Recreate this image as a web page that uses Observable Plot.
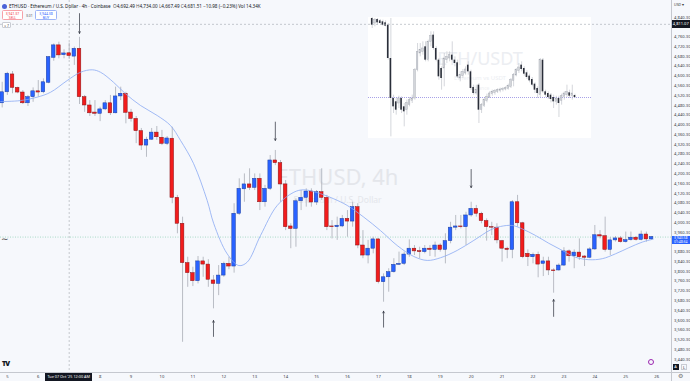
<!DOCTYPE html>
<html><head><meta charset="utf-8">
<script src="https://cdn.jsdelivr.net/npm/d3@7"></script>
<script src="https://cdn.jsdelivr.net/npm/@observablehq/plot@0.6"></script>
<style>
html,body{margin:0;padding:0;background:#f6f8fc;}
#wrap{position:relative;width:690px;height:381px;overflow:hidden;font-family:"Noto Sans",Roboto,sans-serif;color:#131722;}
#inset{position:absolute;left:368px;top:17px;z-index:0;}
#main{position:absolute;left:0;top:0;z-index:1;}
.ov{position:absolute;z-index:2;white-space:nowrap;box-sizing:border-box;}
</style></head><body><div id="wrap"><div id="inset"></div><div id="main"></div></div>
<script>
// ---------- data ----------
const candleStart = Date.UTC(2025, 9, 4, 20); // first 4h bar
const symbolTitle = "ETHUSD · Ethereum / U.S. Dollar · 4h · Coinbase";
const volumeText = "Vol 14.34K";
const opens = [4488,4533,4606,4551,4532,4488,4513,4537,4533,4572,4674,4725,4685,4692.49,4679,4711,4513,4479,4450,4445,4463,4488,4447,4516,4527,4450,4424,4374,4315,4339,4368,4347,4322,4343,4101,3995,3834,3793,3760,3841,3828,3763,3749,3783,3831,3820,4036,4136,4156,4142,4179,4083,4138,4254,4243,4156,3984,3974,4087,4101,4127,4082,4124,4101,3984,3981,3984,4015,4004,4063,3906,3865,3893,3931,3756,3776,3797,3827,3831,3869,3893,3883,3879,3893,3888,3906,3888,3924,3979,3984,3981,4029,4056,4036,4006,3981,3979,3924,3893,3888,4083,3997,3872,3858,3868,3831,3841,3804,3804,3824,3882,3862,3877,3861,3856,3890,3948,3944,3888,3927,3935,3920,3928,3938,3929,3951,3931];
const highs = [4574,4615,4618,4554,4540,4520,4551,4581,4588,4679,4731,4738,4707,4734,4718,4758,4520,4499,4499,4472,4499,4520,4554,4554,4533,4463,4434,4385,4349,4385,4393,4377,4352,4390,4111,4022,3858,3817,3861,3858,3848,3783,3824,3838,3858,4077,4179,4199,4220,4199,4199,4152,4274,4295,4254,4172,3995,4097,4131,4138,4138,4131,4220,4111,4008,4022,4029,4049,4083,4077,3967,3927,3940,3933,3790,3811,3852,3879,3879,3929,3906,3899,3906,3906,3920,3913,3954,4001,4029,4029,4042,4083,4070,4042,4015,4001,3995,3927,3899,4090,4111,4001,3888,3875,3879,3858,3858,3811,3831,3897,3888,3888,3933,3865,3897,3988,3967,4022,3938,3943,3943,3961,3961,3943,3965,3961,3943];
const lows = [4469,4520,4527,4527,4483,4475,4492,4513,4527,4568,4660,4670,4670,4667.49,4643,4483,4451,4434,4434,4413,4458,4438,4445,4499,4404,4411,4323,4295,4267,4336,4336,4315,4315,4077,3954,3510,3735,3738,3749,3776,3735,3647,3701,3776,3807,3793,4029,4083,4131,4131,4049,4063,4131,4233,4083,3967,3893,3899,4049,4063,4063,4070,4090,3967,3933,3927,3979,3940,3981,3893,3852,3831,3872,3749,3674,3715,3793,3824,3824,3858,3865,3852,3872,3861,3858,3879,3831,3913,3967,3974,3906,4022,4022,3995,3924,3947,3913,3838,3852,3852,3981,3852,3820,3831,3774,3779,3783,3711,3801,3820,3838,3811,3845,3820,3852,3886,3933,3879,3865,3920,3916,3916,3924,3924,3925,3920,3927];
const closes = [4533,4609,4551,4532,4488,4513,4537,4532,4574,4677,4725,4684,4692,4681.51,4711,4513,4479,4447,4445,4463,4488,4447,4516,4527,4449,4424,4374,4315,4339,4368,4349,4322,4344,4101,3995,3834,3793,3760,3841,3828,3766,3749,3783,3831,3820,4036,4138,4156,4142,4179,4083,4138,4254,4243,4156,3981,3974,4087,4101,4127,4082,4124,4101,3981,3981,3987,4015,4004,4063,3906,3865,3893,3931,3756,3776,3797,3827,3831,3869,3893,3882,3879,3893,3888,3906,3888,3924,3979,3984,3981,4029,4056,4036,4006,3981,3979,3927,3893,3888,4083,3997,3858,3858,3868,3828,3841,3804,3801,3824,3882,3862,3877,3858,3856,3890,3948,3943,3888,3927,3935,3920,3928,3938,3929,3951,3931,3940.58];
// moving average line (bar number, price)
const maIndex = [0.67,4.55,7.79,10.37,13.61,16.2,18.47,20.08,22.6,24.93,27.84,31.08,33.66,35.6,38.12,40.78,42.06,44.66,46.92,48.55,51.13,54.37,57.59,59.53,62.77,65.35,67.95,71.17,74.41,77.65,80.88,83.48,86.06,89.3,92.52,95.76,97.7,99.97,101.91,104.49,107.07,109.67,112.25,114.83,117.44,120,122.6,125.2,127.33];
const maValue = [4495,4499,4513,4533,4581,4615,4625,4615,4574,4527,4479,4438,4397,4336,4242,4090,3995,3872,3824,3838,3947,4070,4124,4134,4118,4097,4070,4022,3967,3906,3861,3845,3856,3886,3927,3970,3984,3988,3974,3947,3915,3886,3858,3848,3852,3872,3897,3920,3932];
// hand-drawn arrows (bar number, price from, price to)
const downArrowBar = [16, 54, 92];
const downArrowFrom = [4855, 4411, 4217];
const downArrowTo = [4774, 4336, 4143];
const upArrowBar = [42, 75, 108];
const upArrowFrom = [3534, 3572, 3616];
const upArrowTo = [3599, 3637, 3685];
// axis ticks
const priceTicks = [4840.3,4760.3,4720.3,4680.3,4640.3,4600.3,4560.3,4520.3,4480.3,4440.3,4400.3,4360.3,4320.3,4280.3,4240.3,4200.3,4160.3,4120.3,4080.3,4040.3,4000.3,3960.3,3880.3,3840.3,3800.3,3760.3,3720.3,3680.3,3640.3,3600.3,3560.3,3520.3,3480.3,3440.3];
const dayTicks = [5,6,8,9,10,11,12,13,14,15,16,17,18,19,20,21,22,23,24,25,26];
// crosshair & trading panel
const crosshairBar = 14;
const crosshairPrice = 4811.07;
const crosshairTimeLabel = "Tue 07 Oct '25  12:00 AM";
const countdown = "01:48:34";
const sellPrice = 3941.37, buyPrice = 3944.38, spreadText = "3.01";
// inset (ETH/USDT snapshot)
const insetOpen = [4940,4880,4928,4912,4900,4888,4860,4460,3980,3940,3920,3980,3880,3840,3900,3952,3980,4320,4520,4540,4600,4440,4660,4740,4580,4440,4340,4340,4440,4460,4500,4440,4408,4220,4248,4280,4380,4300,4112,4040,4140,3840,3892,3952,3992,4032,4048,4060,4072,4080,4088,4096,4120,4192,4256,4312,4380,4340,4288,4248,4208,4152,4100,4020,4440,4060,4040,4020,3992,3940,3980,3952,4000,4020,4048,4008,4016];
const insetHigh = [4960,4940,4940,4928,4920,4912,4880,4940,4020,3980,4008,4000,3920,3960,3992,4020,4340,4640,4640,4660,4660,4680,4780,4780,4600,4460,4360,4520,4540,4540,4660,4480,4440,4300,4328,4360,4420,4320,4140,4140,4160,3920,3980,4032,4060,4080,4088,4096,4104,4112,4120,4152,4220,4280,4340,4400,4420,4360,4312,4272,4232,4168,4120,4460,4460,4080,4060,4040,4020,4008,4008,4032,4060,4140,4080,4140,4032];
const insetLow = [4820,4840,4860,4872,4848,4840,4440,3520,3800,3780,3860,3800,3640,3780,3880,3920,3960,4300,4480,4500,4420,4420,4600,4560,4420,4200,4080,4120,4400,4420,4420,4360,4220,4180,4220,4260,4260,4080,4020,4020,3680,3800,3872,3928,3980,4008,4020,4040,4048,4060,4072,4080,4100,4120,4240,4280,4300,4248,4208,4168,4120,4040,3980,3992,4040,3992,3968,3928,3860,3900,3752,3900,3960,3992,3980,3960,3980];
const insetClose = [4860,4920,4888,4880,4860,4848,4460,3980,3880,3840,3980,3840,3820,3928,3960,3980,4320,4540,4560,4580,4440,4660,4728,4580,4440,4240,4220,4460,4480,4500,4440,4400,4240,4260,4300,4328,4300,4100,4040,4080,3840,3900,3960,4000,4040,4060,4072,4080,4088,4096,4104,4128,4200,4260,4320,4352,4328,4272,4232,4192,4140,4080,4040,4440,4060,4020,3992,3968,3940,3980,3920,4008,4040,4060,4008,4040,3992];
const insetLineLevel = 3992;

// ---------- build ----------
const H = 3600e3;
const barTime = n => new Date(candleStart + (n - 1) * 4 * H);
const bars = opens.map((o, i) => ({t: barTime(i + 1), o, h: highs[i], l: lows[i], c: closes[i]}));
const upBars = bars.filter(d => d.c >= d.o), downBars = bars.filter(d => d.c < d.o);
const ma = maIndex.map((k, i) => ({t: barTime(k), v: maValue[i]}));
const downArrows = downArrowBar.map((b, i) => ({t: barTime(b), a: downArrowFrom[i], b: downArrowTo[i]}));
const upArrows = upArrowBar.map((b, i) => ({t: barTime(b), a: upArrowFrom[i], b: upArrowTo[i]}));
const lastPrice = closes[closes.length - 1];
const fmt = d3.format(",.2f");
const half = 1.4 * H;

const main = Plot.plot({
  width: 690, height: 381,
  marginLeft: 0, marginRight: 19, marginTop: 0, marginBottom: 9,
  style: {background: "transparent", color: "#3a3e48", fontFamily: "Noto Sans, sans-serif", overflow: "visible"},
  x: {type: "utc", domain: [new Date(candleStart - 1.32 * H), new Date(candleStart + 519.5 * H)]},
  y: {domain: [3386.4, 4908.6]},
  marks: [
    Plot.text(["ETHUSD, 4h"], {frameAnchor: "middle", dx: 1.5, dy: -9, fontSize: 22, fill: "#e4e6eb"}),
    Plot.text(["Ethereum / U.S. Dollar"], {frameAnchor: "middle", dx: 1.5, dy: 14, fontSize: 8.5, fill: "#e4e6eb"}),
    Plot.ruleY([lastPrice], {stroke: "#86cdb0", strokeWidth: 0.7, strokeDasharray: "1,1.5"}),
    Plot.ruleX([barTime(crosshairBar)], {stroke: "#a3a7b0", strokeWidth: 0.6, strokeDasharray: "2,2"}),
    Plot.ruleY([crosshairPrice], {stroke: "#a3a7b0", strokeWidth: 0.6, strokeDasharray: "2,2"}),
    Plot.ruleX(bars, {x: "t", y1: "l", y2: "h", stroke: "#a9adb6", strokeWidth: 0.8}),
    Plot.rect(upBars, {x1: d => new Date(+d.t - half), x2: d => new Date(+d.t + half), y1: "o", y2: "c", fill: "#2962ff", stroke: "#1d3f9e", strokeWidth: 0.5}),
    Plot.rect(downBars, {x1: d => new Date(+d.t - half), x2: d => new Date(+d.t + half), y1: "o", y2: "c", fill: "#f21c1c", stroke: "#86151a", strokeWidth: 0.5}),
    Plot.line(ma, {x: "t", y: "v", stroke: "#8aaaf2", strokeWidth: 0.8, curve: "catmull-rom"}),
    Plot.arrow(downArrows, {x1: "t", x2: "t", y1: "a", y2: "b", stroke: "#2a2e39", strokeWidth: 0.7, headLength: 4, headAngle: 55}),
    Plot.arrow(upArrows, {x1: "t", x2: "t", y1: "a", y2: "b", stroke: "#2a2e39", strokeWidth: 0.7, headLength: 4, headAngle: 55}),
    Plot.axisY({anchor: "right", ticks: priceTicks, tickFormat: fmt, tickSize: 0, tickPadding: 2.5, fontSize: 4.2, label: null}),
    Plot.axisX({ticks: dayTicks.map(d => new Date(Date.UTC(2025, 9, d))), tickFormat: d => d.getUTCDate(), tickSize: 0, tickPadding: 2.6, fontSize: 4.2, label: null})
  ]
});
document.getElementById("main").append(main);

const inset = Plot.plot({
  width: 223, height: 121, margin: 0,
  style: {background: "#ffffff", fontFamily: "Noto Sans, sans-serif"},
  x: {domain: [-1.39, 82.2], axis: null},
  y: {domain: [3500, 4952], axis: null},
  marks: [
    Plot.text(["ETH/USDT"], {frameAnchor: "middle", dy: -19, fontSize: 18, fill: "#eceef2"}),
    Plot.text(["Ethereum vs USDT"], {frameAnchor: "middle", dy: 0, fontSize: 6, fill: "#eceef2"}),
    Plot.text(["Binance"], {frameAnchor: "middle", dy: 10, fontSize: 5, fill: "#eef0f3"}),
    Plot.ruleY([insetLineLevel], {stroke: "#6d63d6", strokeWidth: 0.6, strokeDasharray: "1,1"}),
    Plot.ruleX(insetOpen, {x: (d, i) => i, y1: (d, i) => insetLow[i], y2: (d, i) => insetHigh[i], stroke: "#b9bcc4", strokeWidth: 0.6}),
    Plot.rect(insetOpen, {filter: (d, i) => insetClose[i] >= d, x1: (d, i) => i - 0.3, x2: (d, i) => i + 0.3, y1: d => d, y2: (d, i) => insetClose[i], fill: "#d3d5da", stroke: "#a4a8b1", strokeWidth: 0.4}),
    Plot.rect(insetOpen, {filter: (d, i) => insetClose[i] < d, x1: (d, i) => i - 0.3, x2: (d, i) => i + 0.3, y1: d => d, y2: (d, i) => insetClose[i], fill: "#2a2e39"})
  ]
});
document.getElementById("inset").append(inset);

// ---------- overlays positioned through the scales ----------
const xs = main.scale("x"), ys = main.scale("y");
const wrap = document.getElementById("wrap");
function ov(html, css) { const d = document.createElement("div"); d.className = "ov"; d.innerHTML = html; Object.assign(d.style, css); wrap.append(d); return d; }
const cb = bars[crosshairBar - 1];
const chg = cb.c - cb.o;
ov(`<span style="display:inline-block;width:5px;height:5px;border-radius:50%;background:#4a62d8;vertical-align:middle;margin-right:2px"></span>${symbolTitle}&nbsp;&nbsp;<span style="color:#555">O</span>${fmt(cb.o)} <span style="color:#555">H</span>${fmt(cb.h)} <span style="color:#555">L</span>${fmt(cb.l)} <span style="color:#555">C</span>${fmt(cb.c)} ${d3.format("+,.2f")(chg).replace("-", "−")} (${d3.format("+.2%")(chg / cb.o).replace("-", "−")}) ${volumeText}`,
  {left: "2px", top: "2.5px", fontSize: "4.6px", lineHeight: "6px", color: "#131722"});
ov(`${fmt(sellPrice)}<br>SELL`, {left: "2px", top: "10px", width: "21px", height: "10px", border: "0.6px solid #f7a1a8", borderRadius: "1.5px", color: "#f23645", fontSize: "3.4px", lineHeight: "4.2px", textAlign: "center", paddingTop: "0.5px", background: "#fff"});
ov(spreadText, {left: "26px", top: "13px", fontSize: "3.4px", color: "#555"});
ov(`${fmt(buyPrice)}<br>BUY`, {left: "35px", top: "10px", width: "22px", height: "10px", border: "0.6px solid #9db4f7", borderRadius: "1.5px", color: "#2962ff", fontSize: "3.4px", lineHeight: "4.2px", textAlign: "center", paddingTop: "0.5px", background: "#fff"});
ov("∨ 7", {left: "2px", top: "22px", width: "9px", height: "6px", border: "0.5px solid #c9ccd3", borderRadius: "1px", fontSize: "3.4px", lineHeight: "5px", textAlign: "center", color: "#333", background: "#fff"});
ov("∼", {left: "1px", top: "232px", fontSize: "9px", color: "#444"});
// separators
ov("", {left: "671px", top: "0px", width: "0.8px", height: "381px", background: "#c5c8cf"});
ov("", {left: "0px", top: "372px", width: "690px", height: "0.8px", background: "#c5c8cf"});
ov("USD ▾", {left: "674px", top: "2px", fontSize: "3.6px", color: "#333"});
// crosshair labels
ov(fmt(crosshairPrice), {left: "671.5px", top: (ys.apply(crosshairPrice) - 3.5) + "px", width: "18.5px", height: "8px", background: "#131722", color: "#fff", fontSize: "4px", lineHeight: "8px", textAlign: "center"});
const cx = xs.apply(barTime(crosshairBar));
ov(crosshairTimeLabel, {left: (cx - 23.5) + "px", top: "372.5px", width: "47px", height: "8.5px", background: "#131722", color: "#fff", fontSize: "3.8px", lineHeight: "8.5px", textAlign: "center"});
// last price label
ov(`${fmt(lastPrice)}<br>${countdown}`, {left: "671.5px", top: (ys.apply(lastPrice) - 1) + "px", width: "18.5px", height: "8.6px", background: "#2962ff", color: "#fff", fontSize: "3.4px", lineHeight: "4px", textAlign: "center", paddingTop: "0.3px"});
// bottom UI
ov("TV", {left: "2px", top: "359px", fontSize: "7px", fontWeight: "900", color: "#131722", letterSpacing: "-0.8px"});
ov("", {left: "648px", top: "359px", width: "6px", height: "6px", border: "0.8px solid #9c27b0", borderRadius: "50%"});
ov("A", {left: "672.5px", top: "364px", width: "6px", height: "6px", background: "#131722", color: "#fff", fontSize: "4px", lineHeight: "6px", textAlign: "center"});
ov("L", {left: "681px", top: "364px", width: "6px", height: "6px", border: "0.5px solid #c9ccd3", color: "#333", fontSize: "4px", lineHeight: "5.5px", textAlign: "center"});
ov("⚙", {left: "678px", top: "373px", fontSize: "6px", lineHeight: "7px", color: "#777"});
</script></body></html>
